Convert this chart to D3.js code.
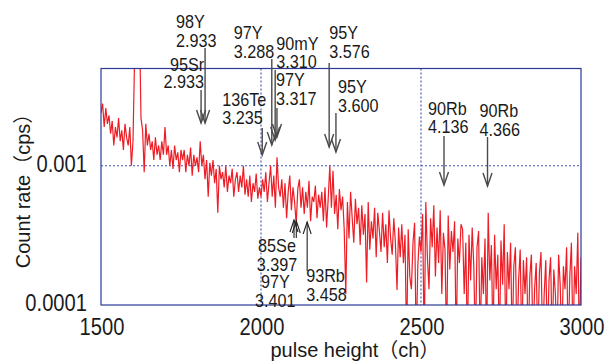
<!DOCTYPE html>
<html><head><meta charset="utf-8">
<script src="https://cdn.jsdelivr.net/npm/d3@7/dist/d3.min.js"></script>
<style>body{margin:0;background:#fff;} svg{display:block;}</style>
</head><body>
<svg id="chart" width="609" height="362"></svg>
<script>
// ---------- data ----------
const xDomain = [1500, 3000];
const yDomain = [1e-4, 5e-3];
const xTicks = [1500, 2000, 2500, 3000];
const yTicks = [0.0001, 0.001];
const yTickLabels = ["0.0001", "0.001"];
const xGrid = [2000, 2500];
const yGrid = [0.001];
const xTitle = "pulse height（ch）";
const yTitle = "Count rate（cps）";
const channels = d3.range(1500, 3001, 5);
const rate = [
 24e-4,28e-4,19e-4,26e-4,20e-4,23e-4,
 17e-4,21e-4,14e-4,19e-4,16e-4,22e-4,15e-4,18e-4,13e-4,20e-4,16e-4,14e-4,19e-4,
 10e-4,15e-4,
 60e-4,120e-4,50e-4,110e-4,22e-4,
 18e-4,9e-4,20e-4,14e-4,17e-4,
 13e-4,15e-4,11e-4,16e-4,12e-4,14e-4,11e-4,15e-4,12e-4,19e-4,
 12e-4,14e-4,10e-4,13e-4,9.5e-4,14e-4,11e-4,12.5e-4,9e-4,13e-4,
 11e-4,13e-4,9e-4,12e-4,10e-4,13.5e-4,8.5e-4,12e-4,10e-4,11.5e-4,9e-4,15e-4,
 10e-4,12e-4,8e-4,11e-4,6e-4,10.5e-4,8.5e-4,11e-4,7.5e-4,9.5e-4,4.6e-4,10e-4,8e-4,
 9e-4,7e-4,10e-4,6.5e-4,8.5e-4,7.5e-4,9.5e-4,6e-4,8e-4,9e-4,6.5e-4,8.5e-4,7e-4,10e-4,6.2e-4,
 8e-4,6e-4,8.5e-4,5.5e-4,7.5e-4,6.5e-4,8.8e-4,5.8e-4,7e-4,6e-4,
 8e-4,6.5e-4,9e-4,5.5e-4,7.5e-4,10e-4,6e-4,8.5e-4,5e-4,11.5e-4,7e-4,6e-4,
 8e-4,5e-4,7.5e-4,4.2e-4,6.5e-4,8.5e-4,4.8e-4,7e-4,5.5e-4,3.8e-4,6.8e-4,8e-4,5e-4,
 7e-4,4.5e-4,6.5e-4,5e-4,7.8e-4,4e-4,6e-4,5.5e-4,7.2e-4,4.2e-4,6.2e-4,5e-4,
 6.5e-4,4e-4,7e-4,3.6e-4,5.8e-4,10e-4,5e-4,9.2e-4,4.5e-4,6.2e-4,3.5e-4,6.8e-4,4.8e-4,
 6e-4,3.5e-4,1.2e-4,5.5e-4,3e-4,6.5e-4,4.2e-4,2.8e-4,5.8e-4,3.8e-4,5e-4,2.7e-4,
 5.2e-4,3.2e-4,4.5e-4,1.45e-4,5.5e-4,2.5e-4,4e-4,3e-4,5e-4,2.2e-4,4.6e-4,3.4e-4,2.4e-4,
 4.6e-4,2.6e-4,3.8e-4,2e-4,4.8e-4,3e-4,2.3e-4,4.2e-4,2.8e-4,1.28e-4,3.6e-4,2.2e-4,
 3.8e-4,2e-4,3.2e-4,0,3.5e-4,1.6e-4,1.3e-4,2.8e-4,3.9e-4,0,1.9e-4,3.1e-4,2.4e-4,
 4.5e-4,0,5.5e-4,2.2e-4,1.3e-4,4.2e-4,2.6e-4,5.2e-4,1.6e-4,3.6e-4,2e-4,4.8e-4,1.2e-4,3.3e-4,2.5e-4,0,4.4e-4,1.8e-4,3.4e-4,2.4e-4,4e-4,0,3e-4,2e-4,3.8e-4,
 3.5e-4,1.2e-4,2.8e-4,0,3.2e-4,1.5e-4,3.6e-4,1.9e-4,0,2.6e-4,3.4e-4,0,2.2e-4,1.2e-4,3e-4,0,4.6e-4,1.5e-4,2.7e-4,0,3.2e-4,1.3e-4,2.3e-4,0,2.9e-4,
 1.4e-4,3.8e-4,0,2.4e-4,1.3e-4,2.8e-4,0,1.9e-4,2.6e-4,0,1.5e-4,2.5e-4,0,2.1e-4,1.2e-4,
 2.2e-4,0,1.6e-4,2.3e-4,0,1.3e-4,2e-4,0,1.7e-4,2.4e-4,0,1.2e-4,2.1e-4,0,1.5e-4,2.2e-4,0,1.8e-4,1.2e-4,0,2.3e-4,1.4e-4,0,1.9e-4,1.3e-4,
 2.6e-4,0,1.6e-4,2.8e-4,0,1.9e-4,1.2e-4,3.3e-4,0,2.2e-4
];
const peakNuclide = ["98Y","95Sr","136Te","97Y","90mY","97Y","95Y","95Y","90Rb","90Rb","85Se","97Y","93Rb"];
const peakEnergy = [2.933,2.933,3.235,3.288,3.310,3.317,3.576,3.600,4.136,4.366,3.397,3.401,3.458];
const calibEnergy = [2.933, 4.366];
const calibChannel = [1819, 2711];

// ---------- layout ----------
const W = 609, H = 362;
const plot = {left: 101, right: 581, top: 68.5, bottom: 305};
const annLayout = [
 {dx: 2,   y1: 48,  y2: 123, dir: "down", anchor: "start",  tx: -29, base: [28, 47]},
 {dx: -2,  y1: 90,  y2: 123, dir: "down", anchor: "end",    tx: 3,   base: [71, 88]},
 {dx: -1,  y1: 128, y2: 155, dir: "down", anchor: "start",  tx: -40, base: [106, 124]},
 {dx: -2,  y1: 59,  y2: 145, dir: "down", anchor: "start",  tx: -38, base: [39, 58]},
 {dx: -3,  y1: 70,  y2: 140, dir: "down", anchor: "start",  tx: 1,   base: [50, 68]},
 {dx: -2.6,y1: 108, y2: 137, dir: "down", anchor: "start",  tx: -1,  base: [86, 105]},
 {dx: -2,  y1: 63,  y2: 147, dir: "down", anchor: "start",  tx: 0,   base: [39, 58]},
 {dx: 0,   y1: 113, y2: 152, dir: "down", anchor: "start",  tx: 2,   base: [93, 112]},
 {dx: 1.3, y1: 136, y2: 185, dir: "down", anchor: "start",  tx: -16, base: [115, 133]},
 {dx: -1,  y1: 137, y2: 186, dir: "down", anchor: "start",  tx: -8,  base: [117, 136]},
 {dx: -1.5,y1: 220, y2: 238, dir: "up",   anchor: "middle", tx: -17, base: [252, 271]},
 {dx: 0,   y1: 221, y2: 238, dir: "up",   anchor: "middle", tx: -21, base: [288, 307]},
 {dx: -0.5,y1: 222, y2: 271, dir: "up",   anchor: "start",  tx: -1,  base: [282, 301]}
];

const svg = d3.select("#chart");
const x = d3.scaleLinear().domain(xDomain).range([plot.left, plot.right]);
const y = d3.scaleLog().domain(yDomain).range([plot.bottom, plot.top]);
const eToCh = d3.scaleLinear().domain(calibEnergy).range(calibChannel);

svg.append("rect").attr("width", W).attr("height", H).attr("fill", "#fff");

svg.append("defs").append("clipPath").attr("id", "clip")
  .append("rect").attr("x", plot.left).attr("y", plot.top)
  .attr("width", plot.right - plot.left).attr("height", plot.bottom - plot.top);

// grid
const gridColor = "#3f51b0";
svg.selectAll("line.xg").data(xGrid).join("line")
  .attr("x1", d => x(d)).attr("x2", d => x(d))
  .attr("y1", plot.top).attr("y2", plot.bottom)
  .attr("stroke", gridColor).attr("stroke-width", 1.1).attr("stroke-dasharray", "2,2");
svg.selectAll("line.yg").data(yGrid).join("line")
  .attr("x1", plot.left).attr("x2", plot.right)
  .attr("y1", d => y(d)).attr("y2", d => y(d))
  .attr("stroke", gridColor).attr("stroke-width", 1.1).attr("stroke-dasharray", "2,2");

// data line
const floor = 5e-5;
const line = d3.line()
  .x((d, i) => x(channels[i]))
  .y(d => y(Math.max(d, floor)));
svg.append("path").datum(rate)
  .attr("clip-path", "url(#clip)")
  .attr("d", line)
  .attr("fill", "none").attr("stroke", "#ee1c24").attr("stroke-width", 1.2)
  .attr("stroke-linejoin", "miter");

// frame
svg.append("rect").attr("x", plot.left).attr("y", plot.top)
  .attr("width", plot.right - plot.left).attr("height", plot.bottom - plot.top)
  .attr("fill", "none").attr("stroke", "#2a3a96").attr("stroke-width", 1.2);

// tick labels
const tickFont = "'Liberation Sans', Arial, sans-serif";
svg.selectAll("text.xt").data(xTicks).join("text")
  .attr("transform", d => `translate(${x(d) + 1},335) scale(0.84,1)`)
  .attr("text-anchor", "middle").attr("font-family", tickFont).attr("font-size", 24)
  .attr("fill", "#1a1a1a").text(d => d);
svg.selectAll("text.yt").data(yTicks).join("text")
  .attr("transform", d => `translate(87,${y(d) + 6}) scale(0.84,1)`)
  .attr("text-anchor", "end").attr("font-family", tickFont).attr("font-size", 24)
  .attr("fill", "#1a1a1a").text((d, i) => yTickLabels[i]);

// axis titles
const titleFont = "'Liberation Sans', Arial, 'Noto Sans CJK JP', sans-serif";
svg.append("text").attr("x", 355).attr("y", 357).attr("text-anchor", "middle")
  .attr("font-family", titleFont).attr("font-size", 20).attr("fill", "#1a1a1a").text(xTitle);
svg.append("text").attr("transform", "translate(30,186) rotate(-90)").attr("text-anchor", "middle")
  .attr("font-family", titleFont).attr("font-size", 20).attr("fill", "#1a1a1a").text(yTitle);

// annotations
const fmtE = d3.format(".3f");
peakEnergy.forEach((e, i) => {
  const L = annLayout[i];
  const ax = x(eToCh(e)) + L.dx;
  const g = svg.append("g");
  const isDown = L.dir === "down";
  const col = isDown ? "#4a4a4a" : "#222";
  const sw = isDown ? 1.4 : 1.1;
  g.append("line").attr("x1", ax).attr("x2", ax).attr("y1", L.y1).attr("y2", L.y2)
    .attr("stroke", col).attr("stroke-width", sw);
  const tip = isDown ? L.y2 : L.y1;
  const back = isDown ? tip - 13 : tip + 12;
  const hw = isDown ? 4.5 : 4;
  g.append("path").attr("d", `M${ax - hw},${back} L${ax},${tip} L${ax + hw},${back}`)
    .attr("fill", "none").attr("stroke", col).attr("stroke-width", sw);
  [peakNuclide[i], fmtE(e)].forEach((t, k) => {
    g.append("text")
      .attr("transform", `translate(${ax + L.tx},${L.base[k]}) scale(0.9,1)`)
      .attr("text-anchor", L.anchor)
      .attr("font-family", tickFont).attr("font-size", 18).attr("fill", "#1a1a1a")
      .text(t);
  });
});
</script>
</body></html>
